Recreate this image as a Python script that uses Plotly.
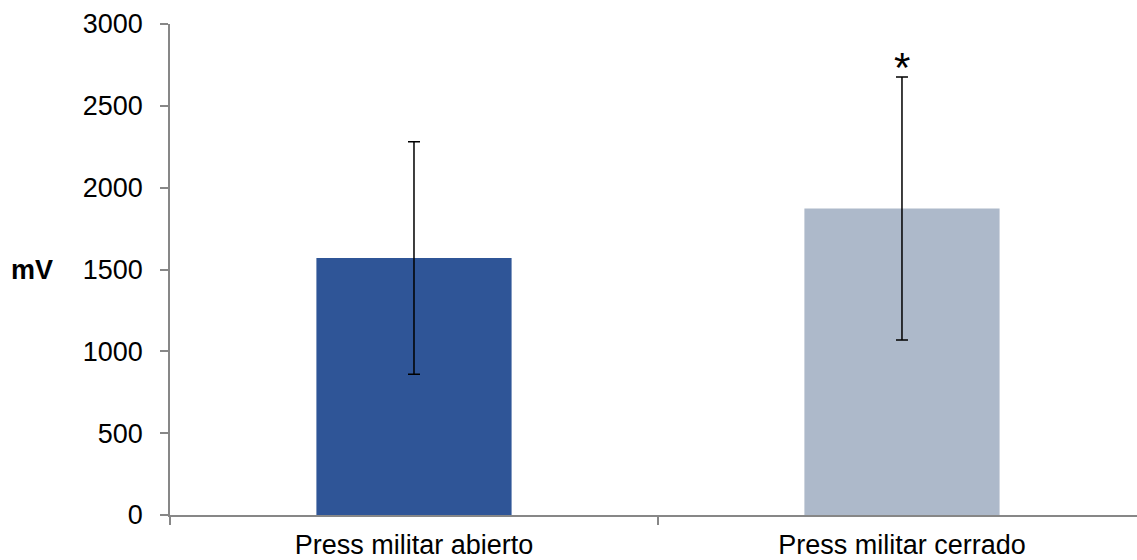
import plotly.graph_objects as go

# Mean EMG amplitude (mV) with standard deviation for each exercise grip
categories = ["Press militar abierto", "Press militar cerrado"]
means = [1570, 1873]
sds = [710, 803]
colors = ["#2F5597", "#ADB9CA"]
significance = ["", "*"]

FONT = "Liberation Sans, Arial"
positions = list(range(len(categories)))
boundaries = [p - 0.5 for p in positions]

fig = go.Figure()
fig.add_trace(go.Bar(
    x=positions,
    y=means,
    width=0.4,
    marker=dict(color=colors, line=dict(width=0)),
    error_y=dict(type="data", array=sds, visible=True,
                 color="black", thickness=1.5, width=6),
    showlegend=False,
))

# Significance marker above the upper end of the error bar
for pos, m, s, mark in zip(positions, means, sds, significance):
    if mark:
        fig.add_annotation(x=pos, y=m + s, text=mark, showarrow=False,
                           yanchor="middle", yshift=10,
                           font=dict(size=42, color="black", family=FONT))

# Unit label placed horizontally to the left of the tick labels
fig.add_annotation(xref="paper", yref="y", x=0, y=1500, text="<b>mV</b>",
                   showarrow=False, xanchor="right", xshift=-115,
                   font=dict(size=27, color="black", family=FONT))

axis_color = "#878787"
fig.update_layout(
    width=1137, height=560,
    margin=dict(l=170, r=0, t=24, b=45, autoexpand=False),
    plot_bgcolor="white", paper_bgcolor="white",
    font=dict(family=FONT, size=27, color="black"),
)
fig.update_xaxes(
    automargin=False,
    range=[-0.5, 1.4816],
    tickvals=positions, ticktext=categories,
    tickfont=dict(size=27, family=FONT, color="black"),
    showline=True, linecolor=axis_color, linewidth=1.5,
    ticks="", ticklabelstandoff=5,
    minor=dict(tickmode="array", tickvals=boundaries, ticks="outside",
               ticklen=8, tickcolor=axis_color, tickwidth=1.5,
               showgrid=False),
    showgrid=False, zeroline=False,
)
fig.update_yaxes(
    automargin=False,
    range=[0, 3000], tickvals=[0, 500, 1000, 1500, 2000, 2500, 3000],
    tickfont=dict(size=27, family=FONT, color="black"),
    showline=True, linecolor=axis_color, linewidth=1.5,
    ticks="outside", ticklen=8, tickcolor=axis_color, tickwidth=1.5,
    ticklabelstandoff=12,
    showgrid=False, zeroline=False,
)

fig.write_html("out.html")
